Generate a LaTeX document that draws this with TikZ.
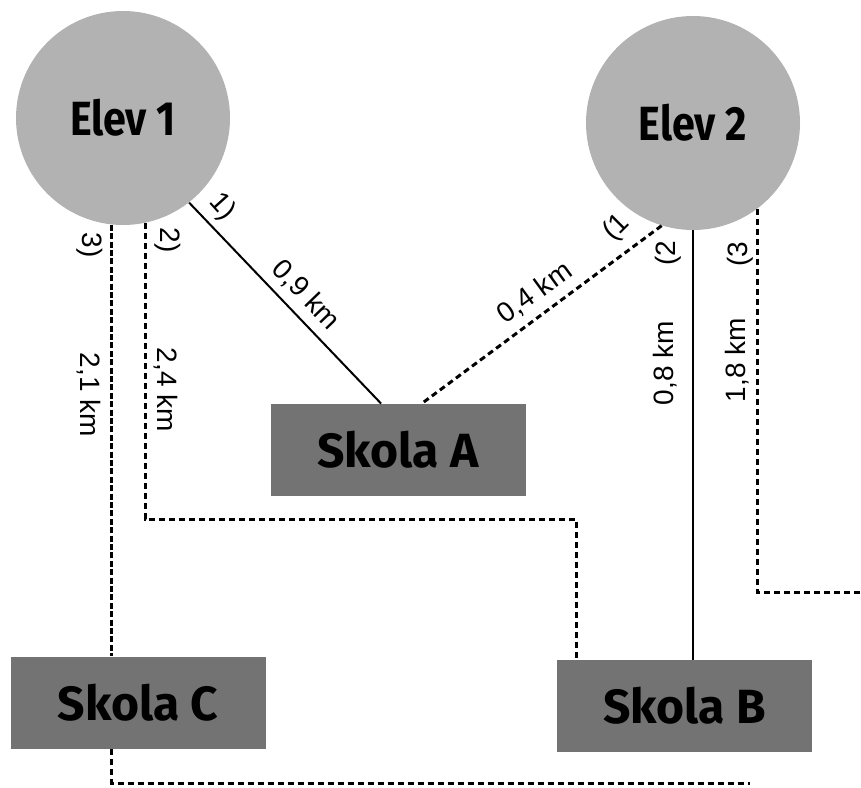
\documentclass[tikz,border=0pt]{standalone}
\usepackage{fontspec}
\setmainfont{Liberation Sans}
\newfontfamily\headfont{Fira Sans}
\newfontfamily\elevfont{Fira Sans}[FakeStretch=0.86]
\begin{document}
\begin{tikzpicture}[
    x=0.5pt, y=-0.5pt,
    elev/.style={circle, fill=black!30, minimum size=107pt, inner sep=0pt,
                 font=\elevfont\bfseries\fontsize{24}{28}\selectfont},
    skola/.style={rectangle, fill=black!55, minimum width=127.5pt, minimum height=46pt,
                  inner sep=0pt, font=\headfont\bfseries\fontsize{24}{28}\selectfont},
    road/.style={line width=1pt},
    dots/.style={line width=1.5pt, dash pattern=on 3pt off 2pt},
    dashes/.style={line width=1.3pt, dash pattern=on 3pt off 1.2pt},
    lbl/.style={font=\fontsize{14}{16}\selectfont, inner sep=0pt},
  ]
  \useasboundingbox (0,0) rectangle (861,787);

  % Students
  \node[elev] (elev1) at (123, 118) {Elev 1};
  \node[elev] (elev2) at (693, 123) {Elev 2};

  % Schools
  \node[skola] (skolaA) at (398, 450) {Skola A};
  \node[skola] (skolaB) at (684.5, 706) {Skola B};
  \node[skola] (skolaC) at (138, 702.5) {Skola C};

  % helper points
  \coordinate (c3) at (elev1.-96);
  \coordinate (bend2) at (576, 519);
  \coordinate (out3) at (861, 592);
  \coordinate (out4) at (750, 783);

  % Elev 1 routes
  \draw[road] (elev1.-52) -- (skolaA.110);
  \draw[dots] (elev1.-78) |- (bend2) -- (bend2 |- skolaB.north);
  \draw[dashes] (c3) -- (c3 |- skolaC.north);
  \draw[dots] (skolaC.south -| c3) |- (out4);

  % Elev 2 routes
  \draw[dots] (elev2.-107) -- (skolaA.63);
  \draw[road] (elev2.south) -- (elev2.south |- skolaB.north);
  \draw[dots] (elev2.-53) |- (out3);

  % labels Elev 1
  \node[lbl, rotate=-48] (n11) at (222, 207) {1)};
  \node[lbl, rotate=-90] (n12) at (168, 240) {2)};
  \node[lbl, rotate=-90] (n13) at (90, 245) {3)};
  \node[lbl, rotate=-46] (km11) at (306, 295) {0,9 km};
  \node[lbl, rotate=-90] (km12) at (166, 390) {2,4 km};
  \node[lbl, rotate=-90] (km13) at (89, 395) {2,1 km};

  % labels Elev 2
  \node[lbl, rotate=45] (n21) at (617, 228) {(1};
  \node[lbl, rotate=90] (n22) at (668, 253) {(2};
  \node[lbl, rotate=90] (n23) at (740, 254) {(3};
  \node[lbl, rotate=36] (km21) at (535, 293) {0,4 km};
  \node[lbl, rotate=90] (km22) at (665, 363) {0,8 km};
  \node[lbl, rotate=90] (km23) at (737, 360) {1,8 km};

\end{tikzpicture}
\end{document}
